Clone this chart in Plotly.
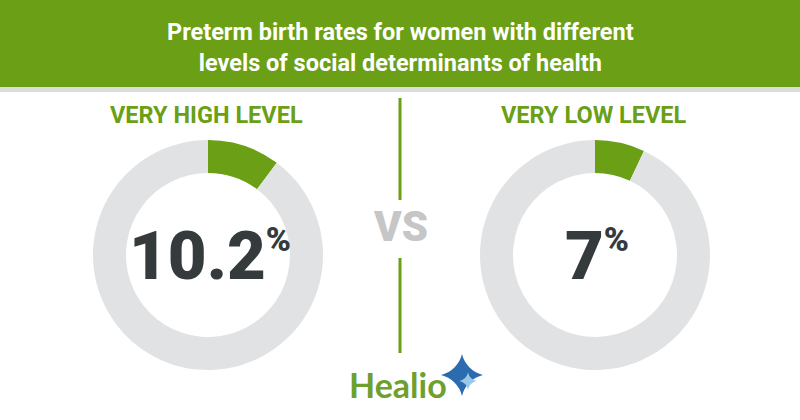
import plotly.graph_objects as go

title_lines = ["Preterm birth rates for women with different",
               "levels of social determinants of health"]
groups = ["VERY HIGH LEVEL", "VERY LOW LEVEL"]
rates = [10.2, 7]
rate_labels = ["10.2", "7"]

GREEN = "#6a9f16"
RING = "#e1e2e3"
DARK = "#353b3d"

W, H = 800, 420
centers_x = [208, 595]
center_y = 255
radius = 115


def py(px):
    # pixel row from top -> paper y
    return (H - px) / H


fig = go.Figure()

for cx, rate in zip(centers_x, rates):
    fig.add_trace(go.Pie(
        values=[rate, 100 - rate],
        marker=dict(colors=[GREEN, RING], line=dict(width=0)),
        hole=82 / 115,
        sort=False,
        direction="clockwise",
        rotation=0,
        textinfo="none",
        hoverinfo="skip",
        domain=dict(x=[(cx - radius) / W, (cx + radius) / W],
                    y=[py(center_y + radius), py(center_y - radius)]),
    ))

# logo star on hidden axes
fig.add_trace(go.Scatter(
    x=[462], y=[H - 375], mode="markers",
    marker=dict(symbol="star-diamond", size=30, color="#2b6cb0",
                line=dict(width=0)),
    hoverinfo="skip",
))
fig.add_trace(go.Scatter(
    x=[468], y=[H - 381], mode="markers",
    marker=dict(symbol="star-diamond", size=12, color="#9cc8e8",
                line=dict(width=0)),
    hoverinfo="skip",
))

shapes = [
    dict(type="rect", xref="paper", yref="paper", x0=0, x1=1,
         y0=py(87), y1=1, fillcolor=GREEN, line=dict(width=0), layer="below"),
    dict(type="rect", xref="paper", yref="paper", x0=0, x1=1,
         y0=py(92), y1=py(87), fillcolor="#dcdcdc", line=dict(width=0), layer="below"),
    dict(type="line", xref="paper", yref="paper", x0=0.5, x1=0.5,
         y0=py(200), y1=py(98), line=dict(color=GREEN, width=3)),
    dict(type="line", xref="paper", yref="paper", x0=0.5, x1=0.5,
         y0=py(353), y1=py(258), line=dict(color=GREEN, width=3)),
]

annotations = [
    dict(text="<br>".join(title_lines), x=0.5, y=py(47), xref="paper", yref="paper",
         showarrow=False, xanchor="center", yanchor="middle",
         font=dict(family="Roboto", size=23.5, color="white", weight="bold")),
    dict(text="VS", x=0.5, y=py(226), xref="paper", yref="paper",
         showarrow=False, xanchor="center", yanchor="middle",
         font=dict(family="Roboto", size=42, color="#c6c6c6", weight=900)),
    dict(text="Healio", x=398 / W, y=py(384), xref="paper", yref="paper",
         showarrow=False, xanchor="center", yanchor="middle",
         font=dict(family="Lato", size=34, color="#6ea02e", weight="bold")),
]

for cx, grp, lab in zip(centers_x, groups, rate_labels):
    annotations.append(dict(
        text=grp, x=(cx - 1) / W, y=py(115), xref="paper", yref="paper", showarrow=False,
        xanchor="center", yanchor="middle",
        font=dict(family="Roboto", size=23.5, color=GREEN, weight="bold")))
    annotations.append(dict(
        text=lab + "<sup><span style='font-size:34px'>%</span></sup>",
        x=(cx + 2) / W, y=py(256), xref="paper", yref="paper", showarrow=False,
        xanchor="center", yanchor="middle",
        font=dict(family="Roboto", size=67, color=DARK, weight=900)))

fig.update_layout(
    width=W, height=H,
    margin=dict(l=0, r=0, t=0, b=0),
    paper_bgcolor="white", plot_bgcolor="rgba(0,0,0,0)",
    showlegend=False,
    xaxis=dict(range=[0, W], visible=False, fixedrange=True),
    yaxis=dict(range=[0, H], visible=False, fixedrange=True),
    shapes=shapes,
    annotations=annotations,
)

fig.write_html("out.html", config={"displayModeBar": False},
               post_script="document.body.style.margin='0';")
